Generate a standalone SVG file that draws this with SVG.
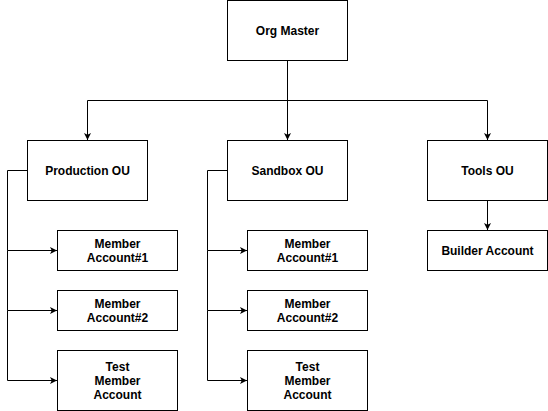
<svg xmlns="http://www.w3.org/2000/svg" width="548" height="411" viewBox="0 0 548 411">
<style>
.box{fill:#fff;stroke:#000;stroke-width:1}
.t{font-family:"Liberation Sans",Arial,Helvetica,sans-serif;font-size:12px;font-weight:bold;fill:#000;text-anchor:middle;dominant-baseline:central}
.c{fill:none;stroke:#000;stroke-width:1}
</style>
<defs>
<marker id="arr" viewBox="0 0 10 10" refX="10" refY="5" markerWidth="7" markerHeight="7" markerUnits="userSpaceOnUse" orient="auto">
<path d="M0,0 L10,5 L0,10 L2.5,5 Z" fill="#000"/>
</marker>
</defs>
<rect width="548" height="411" fill="#fff"/>
<g id="connectors">
<path class="c" d="M287.5,60.5 V100.5 H87.5 V140" marker-end="url(#arr)"/>
<path class="c" d="M287.5,60.5 V140" marker-end="url(#arr)"/>
<path class="c" d="M287.5,100.5 H487.5 V140" marker-end="url(#arr)"/>
<path class="c" d="M487.5,200.5 V230" marker-end="url(#arr)"/>
<path class="c" d="M27.5,170.5 H7.5 V250.5 H57" marker-end="url(#arr)"/>
<path class="c" d="M7.5,250.5 V310.5 H57" marker-end="url(#arr)"/>
<path class="c" d="M7.5,310.5 V380.5 H57" marker-end="url(#arr)"/>
<path class="c" d="M227.5,170.5 H207.5 V250.5 H247" marker-end="url(#arr)"/>
<path class="c" d="M207.5,250.5 V310.5 H247" marker-end="url(#arr)"/>
<path class="c" d="M207.5,310.5 V380.5 H247" marker-end="url(#arr)"/>
</g>
<g id="org-master"><rect class="box" x="227.5" y="0.5" width="120" height="60"/><text class="t" x="287.5" y="31">Org Master</text></g>
<g id="production-ou"><rect class="box" x="27.5" y="140.5" width="120" height="60"/><text class="t" x="87.5" y="171">Production OU</text></g>
<g id="sandbox-ou"><rect class="box" x="227.5" y="140.5" width="120" height="60"/><text class="t" x="287.5" y="171">Sandbox OU</text></g>
<g id="tools-ou"><rect class="box" x="427.5" y="140.5" width="120" height="60"/><text class="t" x="487.5" y="171">Tools OU</text></g>
<g id="builder-account"><rect class="box" x="427.5" y="230.5" width="120" height="40"/><text class="t" x="487.5" y="251">Builder Account</text></g>
<g id="prod-member-1"><rect class="box" x="57.5" y="230.5" width="120" height="40"/><text class="t" x="117.5" y="244">Member</text><text class="t" x="117.5" y="258">Account#1</text></g>
<g id="prod-member-2"><rect class="box" x="57.5" y="290.5" width="120" height="40"/><text class="t" x="117.5" y="304">Member</text><text class="t" x="117.5" y="318">Account#2</text></g>
<g id="prod-test"><rect class="box" x="57.5" y="350.5" width="120" height="60"/><text class="t" x="117.5" y="367">Test</text><text class="t" x="117.5" y="381">Member</text><text class="t" x="117.5" y="395">Account</text></g>
<g id="sandbox-member-1"><rect class="box" x="247.5" y="230.5" width="120" height="40"/><text class="t" x="307.5" y="244">Member</text><text class="t" x="307.5" y="258">Account#1</text></g>
<g id="sandbox-member-2"><rect class="box" x="247.5" y="290.5" width="120" height="40"/><text class="t" x="307.5" y="304">Member</text><text class="t" x="307.5" y="318">Account#2</text></g>
<g id="sandbox-test"><rect class="box" x="247.5" y="350.5" width="120" height="60"/><text class="t" x="307.5" y="367">Test</text><text class="t" x="307.5" y="381">Member</text><text class="t" x="307.5" y="395">Account</text></g>
</svg>
